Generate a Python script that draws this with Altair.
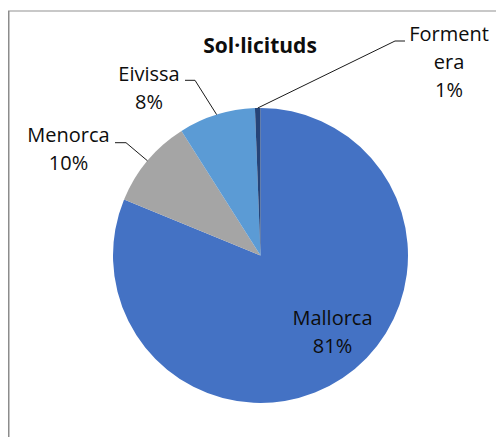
import math
import altair as alt
import pandas as pd

# ---- data ----
regions = ["Mallorca", "Menorca", "Eivissa", "Formentera"]
values = [81.2, 9.8, 8.4, 0.6]
label_names = ["Mallorca", "Menorca", "Eivissa", "Forment\nera"]
colors = ["#4472C4", "#A5A5A5", "#5B9BD5", "#264478"]
title_text = "Sol·licituds"

# ---- layout (pixels, chart coordinates) ----
W, H = 488, 429
CX, CY, R = 252.5, 247.5, 147.5
FONT = "Open Sans"
# label anchor (centre x, first baseline y)
label_pos = {
    "Mallorca": (324.5, 316.5),
    "Menorca": (60.5, 134),
    "Eivissa": (141, 72.5),
    "Formentera": (441, 33),
}
# leader-line elbow and end points
leader_pos = {
    "Menorca": [(118, 134.7), (107, 134.7)],
    "Eivissa": [(187, 72.3), (177, 72.3)],
    "Formentera": [(387, 33), (397, 33)],
}

total = sum(values)
pie = pd.DataFrame({"region": regions, "value": values, "idx": range(len(regions))})

# labels
lab_rows = []
for name, lname, v in zip(regions, label_names, values):
    pct = round(v / total * 100)
    lx, ly = label_pos[name]
    lab_rows.append({"region": name, "text": f"{lname}\n{pct}%", "lx": lx, "ly": ly})
labels = pd.DataFrame(lab_rows)

# leader lines: start on the rim at the slice's mid angle
line_rows = []
cum = 0.0
for name, v in zip(regions, values):
    mid = (cum + v / 2) / total * 2 * math.pi
    cum += v
    if name not in leader_pos:
        continue
    sx = CX + R * math.sin(mid)
    sy = CY - R * math.cos(mid)
    pts = [(sx, sy)] + leader_pos[name]
    for i, (px, py) in enumerate(pts):
        line_rows.append({"region": name, "pt": i, "px": px, "py": py})
lines = pd.DataFrame(line_rows)

arc = alt.Chart(pie).mark_arc(outerRadius=R).encode(
    theta=alt.Theta("value:Q", stack=True),
    order=alt.Order("idx:Q"),
    color=alt.Color("region:N", scale=alt.Scale(domain=regions, range=colors), legend=None),
    x=alt.value(CX),
    y=alt.value(CY),
)

leaders = alt.Chart(lines).mark_line(color="#1a1a1a", strokeWidth=1).encode(
    x=alt.X("px:Q", scale=None, axis=None),
    y=alt.Y("py:Q", scale=None, axis=None),
    detail="region:N",
    order="pt:Q",
)

text = alt.Chart(labels).mark_text(
    font=FONT, fontSize=20, color="#0d0d0d", align="center", baseline="alphabetic",
    lineBreak="\n", lineHeight=28,
).encode(
    x=alt.X("lx:Q", scale=None, axis=None),
    y=alt.Y("ly:Q", scale=None, axis=None),
    text="text:N",
)

one = pd.DataFrame({"a": [0]})
title = alt.Chart(one).mark_text(
    font=FONT, fontSize=21, fontWeight="bold", color="#0d0d0d", align="center", baseline="alphabetic"
).encode(x=alt.value(252), y=alt.value(44.5), text=alt.value(title_text))

top_border = alt.Chart(one).mark_rule(color="#c8c8c8", strokeWidth=2).encode(
    x=alt.value(0), x2=alt.value(W), y=alt.value(3)
)
left_border = alt.Chart(one).mark_rule(color="#8c8c8c", strokeWidth=1.5).encode(
    x=alt.value(0.75), y=alt.value(3), y2=alt.value(H)
)

chart = alt.layer(top_border, left_border, arc, leaders, text, title).properties(
    width=W, height=H, padding=0, autosize=alt.AutoSizeParams(type="none"), background="white"
).configure_view(stroke=None)

chart.save("out.html", embed_options={"renderer": "svg", "actions": False})
